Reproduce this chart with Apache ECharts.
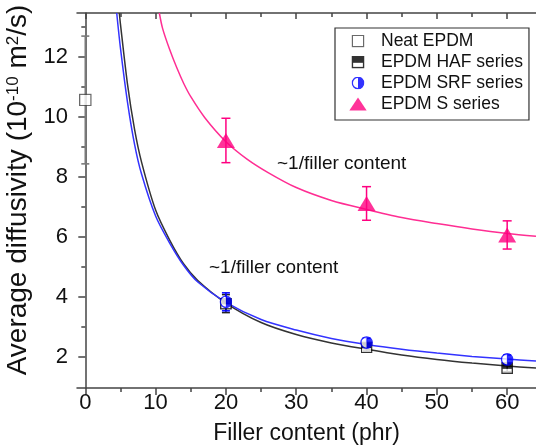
<!DOCTYPE html>
<html><head><meta charset="utf-8">
<script src="https://cdn.jsdelivr.net/npm/echarts@6/dist/echarts.min.js"></script>
<style>html,body{margin:0;padding:0;background:#fff}#c{width:536px;height:446px}</style>
</head><body><div id="c"></div>
<script>
// ---- data ----
const xTicks = [0, 10, 20, 30, 40, 50, 60];
const xMinor = [5, 15, 25, 35, 45, 55];
const yTicks = [2, 4, 6, 8, 10, 12];
const yMinor = [3, 5, 7, 9, 11, 13];

const neatX = [0];
const neatY = [10.57];
const neatErr = [2.13];

const fillerX = [20, 40, 60];
const hafY = [3.78, 2.32, 1.63];
const hafErr = [0.3, 0.12, 0.12];
const srfY = [3.84, 2.48, 1.92];
const srfErr = [0.3, 0.15, 0.15];
const sY = [9.22, 7.12, 6.07];
const sErr = [0.74, 0.56, 0.47];

// fitted ~1/x curves
const srfFitX = [4.47, 5, 6, 7, 8, 10, 12, 14, 16, 20, 25, 30, 35, 40, 45, 50, 55, 60, 64.1];
const srfFitY = [13.47, 12.3, 10.5, 9.1, 8.1, 6.7, 5.8, 5.05, 4.5, 3.82, 3.25, 2.9, 2.62, 2.42, 2.26, 2.13, 2.02, 1.93, 1.87];
const hafFitX = [4.84, 5, 6, 7, 8, 10, 12, 14, 16, 20, 25, 30, 35, 40, 45, 50, 55, 60, 64.1];
const hafFitY = [13.47, 13.1, 11.1, 9.6, 8.5, 6.9, 5.9, 5.1, 4.55, 3.8, 3.15, 2.75, 2.47, 2.26, 2.07, 1.92, 1.8, 1.7, 1.63];
const sFitX = [10.53, 11, 12, 13, 14, 15, 17, 20, 23, 26, 30, 35, 40, 45, 50, 55, 60, 64.1];
const sFitY = [13.47, 12.95, 12.25, 11.65, 11.12, 10.68, 9.98, 9.18, 8.6, 8.15, 7.65, 7.22, 6.92, 6.65, 6.45, 6.27, 6.12, 6.03];

const annotText = '~1/filler content';
// ---------------------------------------

const F = '"Liberation Sans", Arial, sans-serif';
const XMIN = -1.18, XMAX = 64.1, YMIN = 0.967, YMAX = 13.47;
const AX = '#444';
const PINK = '#ff0080', BLUE = '#0000ff', GRAY = '#7a7a7a';

const svg = s => 'image://data:image/svg+xml;charset=utf-8,' + encodeURIComponent(s);
const neatIcon = svg("<svg xmlns='http://www.w3.org/2000/svg' width='24' height='24' viewBox='0 0 24 24'><rect x='1.5' y='1.5' width='21' height='21' fill='white' stroke='#444' stroke-width='2.5'/></svg>");
const hafIcon = svg("<svg xmlns='http://www.w3.org/2000/svg' width='24' height='24' viewBox='0 0 24 24'><rect x='1.5' y='1.5' width='21' height='21' fill='white' stroke='black' stroke-width='3'/><rect x='1.5' y='1.5' width='21' height='12' fill='black'/></svg>");
const srfIcon = svg("<svg xmlns='http://www.w3.org/2000/svg' width='24' height='24' viewBox='0 0 24 24'><circle cx='12' cy='12' r='10.5' fill='white' stroke='#0000ff' stroke-width='2.5'/><path d='M12 1.5 A10.5 10.5 0 0 1 12 22.5 Z' fill='#0000ff'/></svg>");
const triIcon = 'path://M10 0 L20 15 L0 15 Z';

const pairs = (xs, ys) => xs.map((x, i) => [x, ys[i]]);

function errSeries(xs, ys, es, color, capW, lw) {
  return {
    type: 'custom', silent: true, z: 3, clip: false,
    data: xs.map((x, i) => [x, ys[i] - es[i], ys[i] + es[i]]),
    renderItem: (params, api) => {
      const lo = api.coord([api.value(0), api.value(1)]);
      const hi = api.coord([api.value(0), api.value(2)]);
      const w = capW / 2;
      const st = { stroke: color, lineWidth: lw, fill: null };
      return { type: 'group', children: [
        { type: 'rect', shape: { x: lo[0] - lw / 2, y: hi[1], width: lw, height: lo[1] - hi[1] }, style: { fill: color } },
        { type: 'line', shape: { x1: lo[0] - w, y1: lo[1], x2: lo[0] + w, y2: lo[1] }, style: st },
        { type: 'line', shape: { x1: hi[0] - w, y1: hi[1], x2: hi[0] + w, y2: hi[1] }, style: st }
      ]};
    }
  };
}

function xAx(pos, vals, len, inside, labels, extra) {
  return Object.assign({
    type: 'value', min: XMIN, max: XMAX, position: pos,
    axisLine: { show: !!labels || (pos === 'top' && len > 5), lineStyle: { color: AX, width: 1.5 } },
    axisTick: { show: true, inside: inside, customValues: vals, length: len, lineStyle: { color: AX, width: 1.5 } },
    axisLabel: labels ? { show: true, customValues: vals, fontSize: 22, color: '#111', fontFamily: F, margin: 4 } : { show: false },
    splitLine: { show: false }
  }, extra || {});
}

const chart = echarts.init(document.getElementById('c'));
chart.setOption({
  animation: false,
  backgroundColor: '#fff',
  grid: { left: 77, top: 13, right: 0, bottom: 58, containLabel: false, outerBoundsMode: 'none' },
  xAxis: [
    xAx('bottom', xTicks, 7, false, true, {
      name: 'Filler content (phr)', nameLocation: 'middle', nameGap: 34,
      nameTextStyle: { fontSize: 23, color: '#111', fontFamily: F }
    }),
    xAx('bottom', xMinor, 4, false, false),
    xAx('top', xTicks, 6, true, false),
    xAx('top', xMinor, 4, true, false)
  ],
  yAxis: [
    {
      type: 'value', min: YMIN, max: YMAX, position: 'left',
      axisLine: { show: true, lineStyle: { color: AX, width: 1.5 } },
      axisTick: { show: true, customValues: yTicks, length: 7, lineStyle: { color: AX, width: 1.5 } },
      axisLabel: { customValues: yTicks, fontSize: 22, color: '#111', fontFamily: F, margin: 9 },
      splitLine: { show: false },
      name: 'Average diffusivity (10{sup|-10} m{sup|2}/s)',
      nameLocation: 'middle', nameRotate: 90, nameGap: 30,
      nameTextStyle: {
        fontSize: 28, color: '#111', fontFamily: F, padding: [0, 0, 0, 21],
        rich: { sup: { fontSize: 17, color: '#111', fontFamily: F, verticalAlign: 'top', lineHeight: 17 } }
      }
    },
    {
      type: 'value', min: YMIN, max: YMAX, position: 'left',
      axisLine: { show: false },
      axisTick: { show: true, customValues: yMinor, length: 4, lineStyle: { color: AX, width: 1.5 } },
      axisLabel: { show: false }, splitLine: { show: false }
    }
  ],
  legend: {
    orient: 'vertical', left: 335, top: 28,
    data: [
      { name: 'Neat EPDM', icon: neatIcon },
      { name: 'EPDM HAF series', icon: hafIcon },
      { name: 'EPDM SRF series', icon: srfIcon },
      { name: 'EPDM S series', icon: triIcon }
    ],
    itemWidth: 36, itemHeight: 13, itemGap: 3,
    padding: [4, 6, 7, 5],
    borderColor: '#333', borderWidth: 1.2, borderRadius: 0,
    backgroundColor: '#fff',
    symbolKeepAspect: true,
    selectedMode: false,
    textStyle: { fontSize: 17.5, fontFamily: F, color: '#111', lineHeight: 16 }
  },
  graphic: [
    { type: 'text', left: 277, top: 154, style: { text: annotText, fontSize: 19, fontFamily: F, fill: '#111' } },
    { type: 'text', left: 209, top: 258, style: { text: annotText, fontSize: 19, fontFamily: F, fill: '#111' } }
  ],
  series: [
    { type: 'line', name: 'hafFit', data: pairs(hafFitX, hafFitY), showSymbol: false, smooth: 0.3, lineStyle: { color: '#333', width: 1.5 }, z: 1, silent: true },
    { type: 'line', name: 'srfFit', data: pairs(srfFitX, srfFitY), showSymbol: false, smooth: 0.3, lineStyle: { color: '#3333ff', width: 1.5 }, z: 1, silent: true },
    { type: 'line', name: 'sFit', data: pairs(sFitX, sFitY), showSymbol: false, smooth: 0.3, lineStyle: { color: '#ff2e93', width: 1.5 }, z: 1, silent: true },
    errSeries(neatX, neatY, neatErr, GRAY, 8, 1.6),
    errSeries(fillerX, hafY, hafErr, '#222', 8, 1.5),
    errSeries(fillerX, srfY, srfErr, BLUE, 8, 1.5),
    errSeries(fillerX, sY, sErr, PINK, 9, 1.5),
    { type: 'scatter', name: 'Neat EPDM', data: pairs(neatX, neatY), symbol: neatIcon, symbolSize: 13, z: 5 },
    { type: 'scatter', name: 'EPDM HAF series', data: pairs(fillerX, hafY), symbol: hafIcon, symbolSize: 12, z: 5 },
    { type: 'scatter', name: 'EPDM SRF series', data: pairs(fillerX, srfY), symbol: srfIcon, symbolSize: 13, z: 6 },
    { type: 'scatter', name: 'EPDM S series', data: pairs(fillerX, sY), symbol: 'triangle', symbolSize: [18, 15], itemStyle: { color: PINK }, z: 6 }
  ]
});
</script></body></html>
